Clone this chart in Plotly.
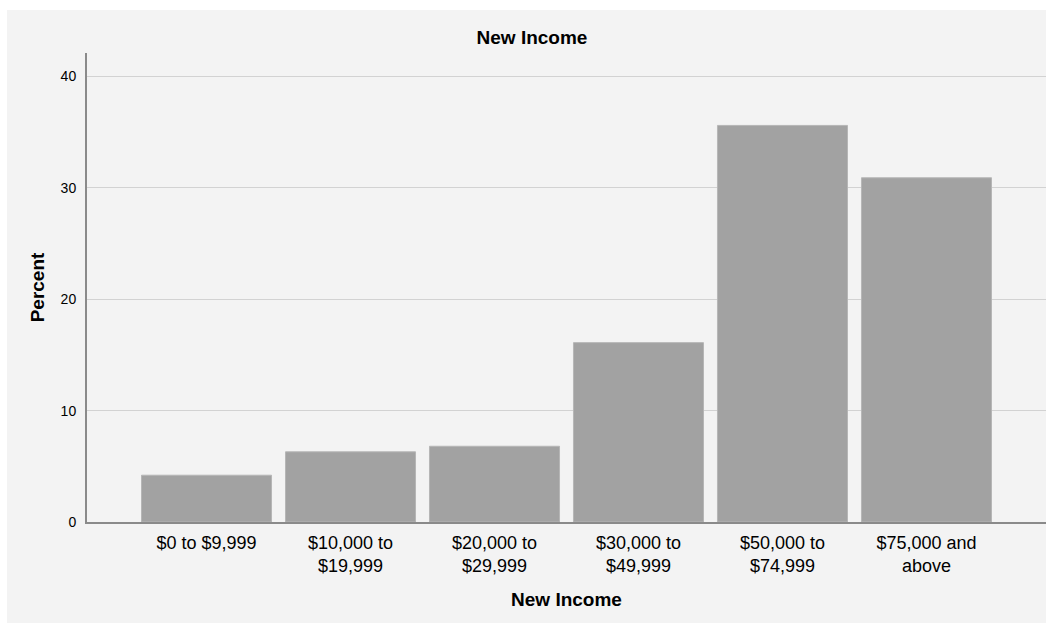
import plotly.graph_objects as go

categories = ["$0 to $9,999", "$10,000 to<br>$19,999", "$20,000 to<br>$29,999",
              "$30,000 to<br>$49,999", "$50,000 to<br>$74,999", "$75,000 and<br>above"]
percent = [4.2, 6.3, 6.8, 16.1, 35.6, 30.9]
y_ticks = [0, 10, 20, 30, 40]

FONT = "Liberation Sans, Arial, sans-serif"

fig = go.Figure(go.Bar(
    x=categories, y=percent, width=0.903,
    marker=dict(color="#a2a2a2", line=dict(color="#b6b6b6", width=1)),
    hoverinfo="x+y",
))

fig.update_layout(
    width=1046, height=623,
    margin=dict(l=87, r=0, t=53, b=101),
    paper_bgcolor="#f3f3f3", plot_bgcolor="#f3f3f3",
    font=dict(family=FONT, color="#000000"),
    showlegend=False,
    title=dict(text="<b>New Income</b>", x=532/1046, xanchor="center",
               xref="container", y=1 - 37/623, yanchor="middle",
               font=dict(size=19, family=FONT, color="#000000")),
    shapes=[
        dict(type="rect", xref="paper", yref="paper", x0=-0.2, x1=1.1,
             y0=1 + 43/469, y1=1.3, fillcolor="white", line=dict(width=0), layer="above"),
        dict(type="rect", xref="paper", yref="paper", x0=-0.2, x1=-80/959,
             y0=-0.5, y1=1.3, fillcolor="white", line=dict(width=0), layer="above"),
    ],
)

fig.update_xaxes(
    type="category", range=[-0.83, 5.83],
    showgrid=False, showline=True, linecolor="#8a8a8a", linewidth=2,
    ticks="", tickfont=dict(size=18, family=FONT, color="#000000"),
    ticklabelstandoff=3,
    title=dict(text="<b>New Income</b>", font=dict(size=19, family=FONT, color="#000000"), standoff=18),
    automargin=False,
)
fig.update_yaxes(
    range=[0, 42.1], tickvals=y_ticks,
    showgrid=True, gridcolor="#d2d2d2", gridwidth=1,
    showline=True, linecolor="#8a8a8a", linewidth=2,
    zeroline=False,
    ticks="", tickfont=dict(size=14, family=FONT, color="#000000"),
    ticklabelstandoff=6,
    title=dict(text="<b>Percent</b>", font=dict(size=19, family=FONT, color="#000000"), standoff=11),
    automargin=False,
)

js = (
    "document.body.style.margin='0';"
    "document.body.style.overflow='hidden';"
    "document.documentElement.style.overflow='hidden';"
    "document.body.style.background='#f3f3f3';"
)
fig.write_html("out.html", post_script=js, config={"displayModeBar": False})
